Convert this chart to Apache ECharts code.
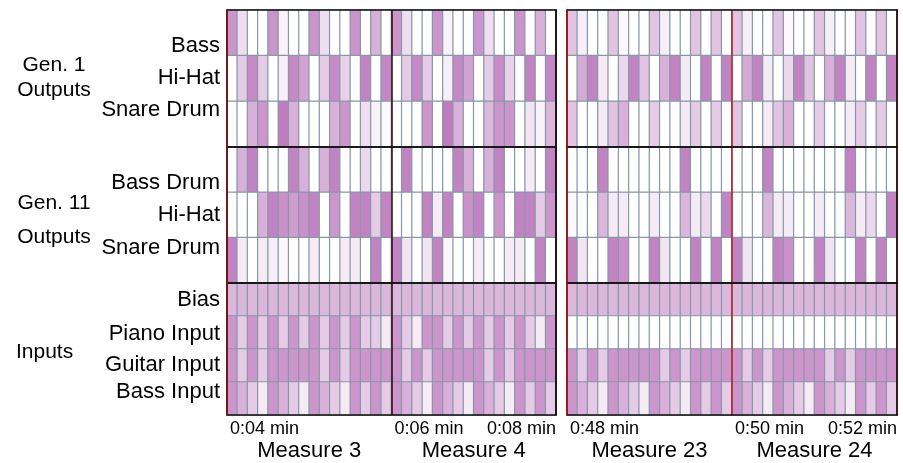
<!DOCTYPE html>
<html>
<head>
<meta charset="utf-8">
<title>Drum generations</title>
<script src="https://cdn.jsdelivr.net/npm/echarts@6/dist/echarts.min.js"></script>
<style>
	html, body { margin: 0; padding: 0; background: #fff; }
	#chart { width: 903px; height: 463px; }
</style>
</head>
<body>
<div id="chart"></div>
<script>
// activation per 16th step, 0 = silent, 1 = full. left panel = measures 3-4, right panel = measures 23-24
var gen1BassLeft     = [.82,.25,0,0,.82,.1,0,0,.82,.25,0,0,.82,0,.6,0, .82,.25,0,0,.82,.1,0,0,.82,.25,0,0,.82,0,.6,0];
var gen1HiHatLeft    = [0,.4,.9,.4,0,.12,.9,.7,0,.4,.88,.35,0,.95,0,.92, 0,.4,.9,.4,0,.12,.9,.7,0,.4,.88,.35,0,.95,0,.92];
var gen1SnareLeft    = [0,0,.6,.8,0,1,.6,0,0,0,.6,.8,0,.25,.1,.04, 0,0,0,.8,0,1,.6,0,0,.55,.8,.8,0,.2,.1,.55];
var gen1BassRight    = [.45,.12,0,0,.45,.05,0,0,.45,.12,0,0,.45,0,.45,0, .45,.12,0,0,.45,.05,0,0,.45,.12,0,0,.45,0,.45,0];
var gen1HiHatRight   = [0,.65,.95,.15,0,.3,.95,.45,0,.6,.95,.15,0,.95,0,.95, 0,.65,.95,.15,0,.3,.95,.45,0,.6,.95,.15,0,.95,0,.95];
var gen1SnareRight   = [.45,0,0,.15,.45,.6,0,0,.4,0,0,.15,.4,0,.4,0, .45,0,0,.15,.45,.6,0,0,.4,0,0,.15,.4,0,.4,0];

var gen11BassLeft    = [0,.6,.95,0,0,0,.95,.6,0,.6,.95,0,0,.3,0,0, 0,.95,0,0,0,0,.95,.6,0,.6,.95,0,0,.15,0,.95];
var gen11HiHatLeft   = [0,0,0,.6,.95,.85,.75,.85,.95,0,.8,0,.95,.95,.4,.95, 0,0,0,.95,.15,.95,0,.85,.95,0,.8,0,.95,.95,.4,.8];
var gen11SnareLeft   = [.95,.15,0,.15,.12,.06,0,0,.15,0,0,.15,.15,0,.95,0, .95,.2,0,.2,.95,.06,0,0,.15,0,0,.15,.15,0,.95,0];
var gen11BassRight   = [0,0,0,.95,0,0,0,0,0,0,0,.95,0,0,0,0, 0,0,0,.95,0,0,0,0,0,0,0,.95,0,0,0,0];
var gen11HiHatRight  = [.04,0,0,.55,.15,.15,0,0,.15,0,0,.55,.15,.3,0,.95, 0,0,0,.55,.15,.15,0,0,.15,0,0,.55,.15,.3,0,.95];
var gen11SnareRight  = [.95,.2,0,0,.95,.85,0,0,.95,.2,0,0,.95,0,.95,0, .95,.2,0,0,.95,.85,0,0,.95,.2,0,0,.95,0,.95,0];

var biasLeft    = [.55,.55,.55,.55,.55,.55,.55,.55,.55,.55,.55,.55,.55,.55,.55,.55, .55,.55,.55,.55,.55,.55,.55,.55,.55,.55,.55,.55,.55,.55,.55,.55];
var pianoLeft   = [.8,.4,.8,.4,.8,.4,.8,.4,.8,.4,.8,.4,.8,.4,.4,.15, .8,.4,.15,.8,.8,.4,.8,.4,.8,.4,.8,.4,.8,.4,.15,.8];
var guitarLeft  = [.8,.4,.8,.4,.8,.8,.8,.8,.8,.4,.8,.4,.8,.8,.8,.8, .8,.4,.8,.4,.8,.8,.8,.8,.8,.4,.8,.4,.8,.8,.8,.8];
var bassInLeft  = [.8,.6,.4,.15,.8,.6,.4,.15,.8,.6,.4,.15,.8,.4,.8,.4, .8,.6,.4,.15,.8,.6,.4,.15,.8,.6,.4,.15,.8,.4,.8,.4];
var biasRight   = [.55,.55,.55,.55,.55,.55,.55,.55,.55,.55,.55,.55,.55,.55,.55,.55, .55,.55,.55,.55,.55,.55,.55,.55,.55,.55,.55,.55,.55,.55,.55,.55];
var pianoRight  = [0,0,0,0,0,0,0,0,0,0,0,0,0,0,0,0, 0,0,0,0,0,0,0,0,0,0,0,0,0,0,0,0];
var guitarRight = [.8,.4,.8,.4,.8,.8,.8,.8,.8,.4,.8,.4,.8,.8,.8,.8, .8,.4,.8,.4,.8,.8,.8,.8,.8,.4,.8,.4,.8,.8,.8,.8];
var bassInRight = [.8,.6,.4,.15,.8,.6,.4,.15,.8,.6,.4,.15,.8,.4,.8,.4, .8,.6,.4,.15,.8,.6,.4,.15,.8,.6,.4,.15,.8,.4,.8,.4];

var gen1Labels  = ['Bass', 'Hi-Hat', 'Snare Drum'];
var gen11Labels = ['Bass Drum', 'Hi-Hat', 'Snare Drum'];
var inputLabels = ['Bias', 'Piano Input', 'Guitar Input', 'Bass Input'];
var groupLabels = [['Gen. 1', 'Outputs'], ['Gen. 11', 'Outputs'], ['Inputs']];

var measuresLeft  = ['Measure 3', 'Measure 4'];
var measuresRight = ['Measure 23', 'Measure 24'];
var timeLabelsLeft  = ['0:04 min', '0:06 min', '0:08 min'];
var timeLabelsRight = ['0:48 min', '0:50 min', '0:52 min'];
var timeMinLeft = 4, timeMinRight = 48, timeStep = 2;

(function() {

	var FONT = '"Liberation Sans", Arial, sans-serif';

	var panels = [
		{ left: 227, width: 329, edge: '#7a1414', divider: '#2a0606', measures: measuresLeft, times: timeLabelsLeft, tmin: timeMinLeft,
		  blocks: [[gen1BassLeft, gen1HiHatLeft, gen1SnareLeft], [gen11BassLeft, gen11HiHatLeft, gen11SnareLeft], [biasLeft, pianoLeft, guitarLeft, bassInLeft]] },
		{ left: 567, width: 330, edge: '#8a1414', divider: '#b01c1c', measures: measuresRight, times: timeLabelsRight, tmin: timeMinRight,
		  blocks: [[gen1BassRight, gen1HiHatRight, gen1SnareRight], [gen11BassRight, gen11HiHatRight, gen11SnareRight], [biasRight, pianoRight, guitarRight, bassInRight]] }
	];
	var blockTop    = [10, 147, 283];
	var blockHeight = [137, 136, 132];
	var blockNames  = [gen1Labels, gen11Labels, inputLabels];

	var steps = [];
	for (var s = 0; s < 32; s++) steps.push(String(s + 1));

	var grid = [], xAxis = [], yAxis = [], series = [];

	for (var p = 0; p < panels.length; p++) {
		var pan = panels[p];
		for (var b = 0; b < 3; b++) {
			var gi = grid.length;
			var rows = pan.blocks[b];
			var isInputs = (b === 2);
			grid.push({ left: pan.left, top: blockTop[b], width: pan.width, height: blockHeight[b] });

			var xi = xAxis.length;
			xAxis.push({
				gridIndex: gi, type: 'category', data: steps, position: 'top', boundaryGap: true, z: 5,
				axisLine: { show: true, lineStyle: { color: '#111', width: 1.5 } },
				axisTick: { show: false }, axisLabel: { show: false }, splitLine: { show: false }
			});

			// time axis: its split line at the middle tick marks the bar line between measures
			(function(pan, isInputs) {
				xAxis.push({
					gridIndex: gi, type: 'value', position: 'bottom', z: 5,
					min: pan.tmin, max: pan.tmin + timeStep * 2, interval: timeStep,
					axisLine: { show: true, lineStyle: { color: '#111', width: 1.5 } },
					axisTick: { show: false },
					splitLine: { show: true, lineStyle: { color: pan.divider, width: 1.5 } },
					axisLabel: {
						show: isInputs, margin: 5, color: '#000', fontSize: 18, fontFamily: FONT,
						padding: [0, 0, 0, 3],
						align: 'left', alignMinLabel: 'left', alignMaxLabel: 'right',
						formatter: function(v) { return pan.times[Math.round((v - pan.tmin) / timeStep)]; }
					}
				});
			})(pan, isInputs);

			if (isInputs) {
				xAxis.push({
					gridIndex: gi, type: 'category', data: pan.measures, position: 'bottom', offset: 21,
					axisLine: { show: false }, axisTick: { show: false }, splitLine: { show: false },
					axisLabel: { show: true, margin: 4, color: '#000', fontSize: 22, fontFamily: FONT }
				});
			}

			var yi = yAxis.length;
			yAxis.push({
				gridIndex: gi, type: 'category', data: blockNames[b], inverse: true, position: 'left', z: 6,
				axisLine: { show: true, lineStyle: { color: pan.edge, width: 1.5 } },
				axisTick: { show: false }, axisLabel: { show: false }, splitLine: { show: false }
			});
			yAxis.push({
				gridIndex: gi, type: 'category', data: blockNames[b], inverse: true, position: 'right', z: 6,
				axisLine: { show: true, lineStyle: { color: '#111', width: 1.5 } },
				axisTick: { show: false }, axisLabel: { show: false }, splitLine: { show: false }
			});

			var data = [];
			for (var r = 0; r < rows.length; r++) {
				for (var c = 0; c < rows[r].length; c++) {
					data.push([c, r, rows[r][c]]);
				}
			}
			series.push({
				type: 'heatmap', xAxisIndex: xi, yAxisIndex: yi, data: data, z: 1,
				itemStyle: { borderColor: '#8a97a9', borderWidth: 1.2 },
				emphasis: { disabled: true }, progressive: 0, animation: false
			});
		}
	}

	// row and group labels on the left
	var rowLabelY = [[46, 78, 110], [183, 215, 248], [300, 334, 365, 392]];
	var groupY = [[65, 90], [203, 237], [352]];
	var graphic = [];
	for (var b = 0; b < 3; b++) {
		for (var i = 0; i < blockNames[b].length; i++) {
			graphic.push({ type: 'text', x: 220, y: rowLabelY[b][i],
				style: { text: blockNames[b][i], fill: '#000', font: '22px ' + FONT, align: 'right', verticalAlign: 'middle' } });
		}
		for (var i = 0; i < groupLabels[b].length; i++) {
			var single = groupLabels[b].length === 1;
			graphic.push({ type: 'text', x: single ? 16 : 54, y: groupY[b][i],
				style: { text: groupLabels[b][i], fill: '#000', font: '21px ' + FONT, align: single ? 'left' : 'center', verticalAlign: 'middle' } });
		}
	}

	var chart = echarts.init(document.getElementById('chart'));
	chart.setOption({
		animation: false,
		textStyle: { fontFamily: FONT },
		grid: grid,
		xAxis: xAxis,
		yAxis: yAxis,
		visualMap: { type: 'continuous', show: false, min: 0, max: 1, dimension: 2,
			seriesIndex: [0, 1, 2, 3, 4, 5],
			inRange: { color: ['#ffffff', '#bf7cbf'] } },
		graphic: graphic,
		series: series
	});

})();
</script>
</body>
</html>
